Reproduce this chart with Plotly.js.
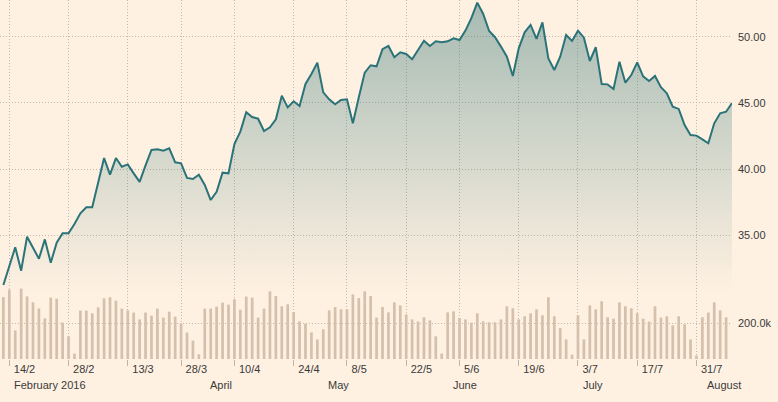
<!DOCTYPE html>
<html><head><meta charset="utf-8">
<script src="https://cdn.plot.ly/plotly-3.0.1.min.js"></script>
<style>html,body{margin:0;padding:0;background:#fff1e2;} #chart{width:778px;height:402px;}</style>
</head><body><div id="chart"></div>
<script>
// Trading days (UK market, weekends and bank holidays skipped)
const dates = [
'2016-02-12','2016-02-15','2016-02-16','2016-02-17','2016-02-18','2016-02-19',
'2016-02-22','2016-02-23','2016-02-24','2016-02-25','2016-02-26','2016-02-29',
'2016-03-01','2016-03-02','2016-03-03','2016-03-04',
'2016-03-07','2016-03-08','2016-03-09','2016-03-10','2016-03-11',
'2016-03-14','2016-03-15','2016-03-16','2016-03-17','2016-03-18',
'2016-03-21','2016-03-22','2016-03-23','2016-03-24',
'2016-03-29','2016-03-30','2016-03-31','2016-04-01',
'2016-04-04','2016-04-05','2016-04-06','2016-04-07','2016-04-08',
'2016-04-11','2016-04-12','2016-04-13','2016-04-14','2016-04-15',
'2016-04-18','2016-04-19','2016-04-20','2016-04-21','2016-04-22',
'2016-04-25','2016-04-26','2016-04-27','2016-04-28','2016-04-29',
'2016-05-03','2016-05-04','2016-05-05','2016-05-06',
'2016-05-09','2016-05-10','2016-05-11','2016-05-12','2016-05-13',
'2016-05-16','2016-05-17','2016-05-18','2016-05-19','2016-05-20',
'2016-05-23','2016-05-24','2016-05-25','2016-05-26','2016-05-27',
'2016-05-31','2016-06-01','2016-06-02','2016-06-03',
'2016-06-06','2016-06-07','2016-06-08','2016-06-09','2016-06-10',
'2016-06-13','2016-06-14','2016-06-15','2016-06-16','2016-06-17',
'2016-06-20','2016-06-21','2016-06-22','2016-06-23','2016-06-24',
'2016-06-27','2016-06-28','2016-06-29','2016-06-30','2016-07-01',
'2016-07-04','2016-07-05','2016-07-06','2016-07-07','2016-07-08',
'2016-07-11','2016-07-12','2016-07-13','2016-07-14','2016-07-15',
'2016-07-18','2016-07-19','2016-07-20','2016-07-21','2016-07-22',
'2016-07-25','2016-07-26','2016-07-27','2016-07-28','2016-07-29',
'2016-08-01','2016-08-02','2016-08-03','2016-08-04','2016-08-05',
'2016-08-08','2016-08-09'
];

const price = [
31.21,32.65,34.07,32.30,34.87,34.04,
33.20,34.67,32.90,34.42,35.13,35.13,
35.83,36.64,37.10,37.10,
38.96,40.83,39.57,40.83,40.17,
40.35,39.67,39.02,40.28,41.44,
41.49,41.39,41.57,40.51,
40.43,39.32,39.24,39.57,
38.79,37.65,38.28,39.72,39.67,
41.89,42.83,44.30,43.94,43.81,
42.88,43.16,43.76,45.55,44.67,
45.13,44.77,46.44,47.20,48.05,
45.80,45.28,44.90,45.23,
45.28,43.46,45.43,47.30,47.86,
47.78,49.07,49.32,48.46,48.84,
48.71,48.31,49.02,49.72,49.32,
49.67,49.60,49.67,49.90,
49.77,50.48,51.42,52.60,51.74,
50.45,49.98,49.27,48.51,47.05,
49.14,50.35,50.91,49.85,51.11,
48.38,47.50,48.51,50.15,49.70,
50.48,49.95,48.18,49.22,46.44,
46.41,46.06,48.13,46.54,47.12,
48.08,47.02,46.67,47.05,46.19,
45.73,44.72,44.55,43.33,42.58,
42.53,42.25,41.95,43.46,44.22,
44.34,45.00
];

// Volume in thousands (no bar for the last, partial day)
const volumeK = [
344,386,159,391,348,315,
281,226,341,335,202,126,
30,269,269,254,
287,337,343,324,280,
270,258,220,258,241,
280,230,263,235,
197,147,102,26,
280,280,291,313,302,
332,274,347,341,230,
280,376,350,293,304,
261,209,197,148,109,
165,270,289,276,
276,359,339,376,350,
230,289,259,315,298,
248,220,209,232,215,
126,30,259,265,
228,220,202,254,209,
204,204,220,293,282,
220,237,254,276,243,
343,237,172,109,24,
243,109,298,276,321,
232,224,315,293,282,
254,224,208,293,230,
237,187,237,193,108,
19,232,258,315,270,
232
];

const tickDates = ['2016-02-15','2016-02-29','2016-03-14','2016-03-29','2016-04-11','2016-04-25','2016-05-09','2016-05-23','2016-06-06','2016-06-20','2016-07-04','2016-07-18','2016-08-01'];
const tickLabels = ['14/2','28/2','13/3','28/3','10/4','24/4','8/5','22/5','5/6','19/6','3/7','17/7','31/7'];
const priceTicks = [35, 40, 45, 50];
const volumeTicks = [200000];
const volumeTickLabels = ['200.0k'];
const monthLabels = ['February 2016','April','May','June','July','August'];
const monthAnchors = ['2016-02-12','2016-04-01','2016-04-29','2016-06-01','2016-07-01','2016-08-01'];

const bg = '#fff1e2';
const gridColor = '#c2b8ad';
const textColor = '#3a3a3a';

const volume = volumeK.map(v => v * 1000);

const traces = [
  {
    type: 'scatter', mode: 'lines',
    x: dates, y: price,
    xaxis: 'x', yaxis: 'y',
    line: {color: '#2a7378', width: 2},
    fill: 'tozeroy',
    fillgradient: {
      type: 'vertical', start: 30.5, stop: 52.8,
      colorscale: [[0, 'rgba(42,116,120,0)'], [1, 'rgba(42,110,112,0.42)']]
    },
    hoverinfo: 'skip'
  },
  {
    type: 'bar',
    x: dates.slice(0, volume.length), y: volume,
    xaxis: 'x', yaxis: 'y2',
    width: 0.46,
    marker: {color: '#d4c0ab', line: {width: 0}},
    hoverinfo: 'skip'
  }
];

const gridStyle = {showgrid: true, gridcolor: gridColor, gridwidth: 1, griddash: '1px,2px', zeroline: false, showline: false};

const layout = {
  width: 778, height: 402,
  margin: {l: 0, r: 46, t: 0, b: 43, pad: 0},
  paper_bgcolor: bg, plot_bgcolor: bg,
  showlegend: false,
  font: {family: '"Liberation Sans", Arial, sans-serif', size: 11, color: textColor},
  xaxis: Object.assign({
    type: 'category',
    range: [-0.57, dates.length - 1],
    tickmode: 'array', tickvals: tickDates, ticktext: tickLabels,
    ticks: 'outside', ticklen: 6, tickwidth: 1, tickcolor: '#bdb3a8',
    ticklabelposition: 'outside right', ticklabelshift: 4,
    tickfont: {size: 11, color: textColor}
  }, gridStyle),
  yaxis: Object.assign({
    side: 'right', range: [25.61, 52.8],
    tickmode: 'array', tickvals: priceTicks, tickformat: '.2f',
    ticks: '', ticklabelstandoff: 5,
    tickfont: {size: 11, color: textColor}
  }, gridStyle),
  yaxis2: Object.assign({
    overlaying: 'y', side: 'right', range: [0, 1994444],
    tickmode: 'array', tickvals: volumeTicks, ticktext: volumeTickLabels,
    ticks: '', ticklabelstandoff: 5,
    tickfont: {size: 11, color: textColor}
  }, gridStyle),
  annotations: monthLabels.map((t, i) => ({
    text: t, x: monthAnchors[i], xref: 'x', y: 0, yref: 'paper',
    xanchor: 'left', yanchor: 'middle', xshift: 9, yshift: -26,
    showarrow: false, font: {size: 11, color: textColor}
  }))
};

Plotly.newPlot('chart', traces, layout, {staticPlot: true, displayModeBar: false});
</script>
</body></html>
